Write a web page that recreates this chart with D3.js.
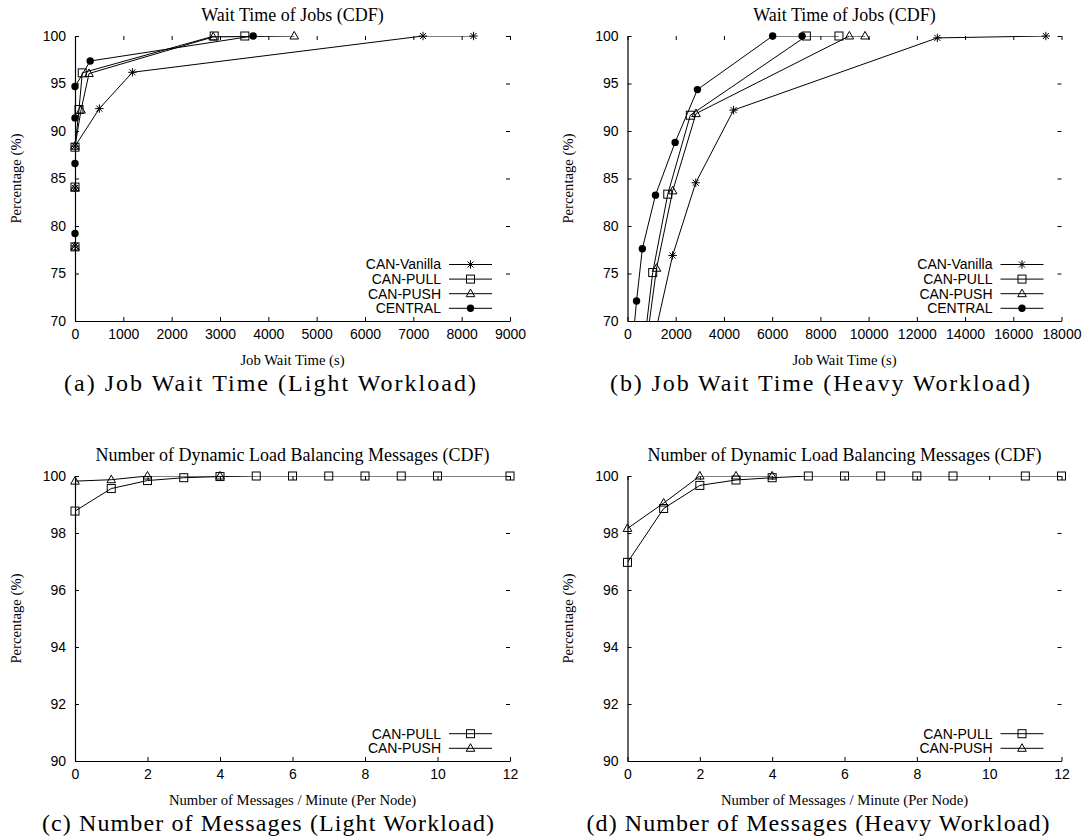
<!DOCTYPE html>
<html><head><meta charset="utf-8">
<script src="https://cdn.jsdelivr.net/npm/d3@7"></script>
<style>body{margin:0;background:#fff}svg{display:block}</style>
</head><body>
<svg id="c" width="1090" height="840"></svg>
<script>
// ---------- data ----------
// (a) Job wait time, light workload  [seconds, percentage]
const lightVanilla = [[0,60],[0,77.9],[0,84.0],[0,88.4],[504,92.36],[1188,96.18],[7200,100],[8244,100]];
const lightPull    = [[0,60],[0,77.8],[0,84.1],[0,88.3],[83,92.26],[150,96.12],[2880,100],[3514,100]];
const lightPush    = [[0,60],[0,77.8],[0,84.0],[0,88.4],[125,92.2],[290,96.05],[2860,99.9],[4536,100]];
const lightCentral = [[0,60],[0,79.22],[0,86.58],[0,91.38],[0,94.68],[315,97.37],[3686,100]];
// (b) Job wait time, heavy workload
const heavyVanilla = [[1000,67.0],[1870,76.9],[2830,84.55],[4400,92.2],[12851,99.8],[17351,100]];
const heavyPull    = [[700,67.7],[1045,75.1],[1670,83.35],[2605,91.66],[7420,100],[8770,100]];
const heavyPush    = [[800,67.9],[1205,75.55],[1875,83.7],[2840,91.83],[9202,100],[9851,100]];
const heavyCentral = [[225,68.0],[375,72.1],[615,77.6],[1160,83.25],[1975,88.8],[2900,94.36],[6020,100],[7240,100]];
// (c) Messages per minute per node, light workload
const msgLightPull = [[0,98.77],[1,99.56],[2,99.84],[3,99.94],[4,99.98],[5,100],[6,100],[7,100],[8,100],[9,100],[10,100],[12,100]];
const msgLightPush = [[0,99.82],[1,99.87],[2,100],[4,100]];
// (d) Messages per minute per node, heavy workload
const msgHeavyPull = [[0,96.97],[1,98.86],[2,99.67],[3,99.86],[4,99.94],[5,100],[6,100],[7,100],[8,100],[9,100],[11,100],[12,100]];
const msgHeavyPush = [[0,98.16],[1,99.05],[2,100],[3,100],[4,100]];

const waitTicksLight = [0,1000,2000,3000,4000,5000,6000,7000,8000,9000];
const waitTicksHeavy = [0,2000,4000,6000,8000,10000,12000,14000,16000,18000];
const pctTicksWait = [70,75,80,85,90,95,100];
const msgTicks = [0,2,4,6,8,10,12];
const pctTicksMsg = [90,92,94,96,98,100];

const names4 = ["CAN-Vanilla","CAN-PULL","CAN-PUSH","CENTRAL"];
const names2 = ["CAN-PULL","CAN-PUSH"];

// ---------- drawing ----------
const svg = d3.select("#c");
const SANS = "'Liberation Sans', Arial, sans-serif";
const SERIF = "'Liberation Serif', 'Times New Roman', serif";

const markers = {
  star: g => g.append("path").attr("d","M-4.2,0H4.2M0,-4.2V4.2M-3,-3L3,3M-3,3L3,-3").attr("stroke","#000").attr("stroke-width",1).attr("fill","none"),
  square: g => g.append("rect").attr("x",-4).attr("y",-4).attr("width",8).attr("height",8).attr("stroke","#000").attr("stroke-width",1).attr("fill","none"),
  tri: g => g.append("path").attr("d","M0,-4.6L4.3,3L-4.3,3Z").attr("stroke","#000").attr("stroke-width",1).attr("fill","none"),
  dot: g => g.append("circle").attr("r",3.7).attr("fill","#000")
};

const panels = [
  {key:"a", x0:75, x1:510, y0:36, y1:321, xd:[0,9000], yd:[70,100], xt:waitTicksLight, yt:pctTicksWait,
   title:"Wait Time of Jobs (CDF)", xlab:"Job Wait Time (s)",
   cap:"(a) Job Wait Time (Light Workload)", capX:270, capW:412,
   series:[lightVanilla,lightPull,lightPush,lightCentral], names:names4, mk:["star","square","tri","dot"]},
  {key:"b", x0:627.5, x1:1061.5, y0:36, y1:321, xd:[0,18000], yd:[70,100], xt:waitTicksHeavy, yt:pctTicksWait,
   title:"Wait Time of Jobs (CDF)", xlab:"Job Wait Time (s)",
   cap:"(b) Job Wait Time (Heavy Workload)", capX:820, capW:420,
   series:[heavyVanilla,heavyPull,heavyPush,heavyCentral], names:names4, mk:["star","square","tri","dot"]},
  {key:"c", x0:75, x1:510, y0:476, y1:761, xd:[0,12], yd:[90,100], xt:msgTicks, yt:pctTicksMsg,
   title:"Number of Dynamic Load Balancing Messages (CDF)", xlab:"Number of Messages / Minute (Per Node)",
   cap:"(c) Number of Messages (Light Workload)", capX:268, capW:452,
   series:[msgLightPull,msgLightPush], names:names2, mk:["square","tri"]},
  {key:"d", x0:627.5, x1:1061.5, y0:476, y1:761, xd:[0,12], yd:[90,100], xt:msgTicks, yt:pctTicksMsg,
   title:"Number of Dynamic Load Balancing Messages (CDF)", xlab:"Number of Messages / Minute (Per Node)",
   cap:"(d) Number of Messages (Heavy Workload)", capX:818, capW:463,
   series:[msgHeavyPull,msgHeavyPush], names:names2, mk:["square","tri"]}
];

const TL = 4; // tick length
panels.forEach(p => {
  const x = d3.scaleLinear().domain(p.xd).range([p.x0,p.x1]);
  const y = d3.scaleLinear().domain(p.yd).range([p.y1,p.y0]);
  const g = svg.append("g");
  const cx = (p.x0+p.x1)/2, cy = (p.y0+p.y1)/2;

  g.append("clipPath").attr("id","clip"+p.key).append("rect")
    .attr("x",p.x0).attr("y",p.y0).attr("width",p.x1-p.x0).attr("height",p.y1-p.y0);

  const xAx = g.append("g").attr("transform",`translate(0,${p.y1})`)
    .call(d3.axisBottom(x).tickValues(p.xt).tickSizeInner(-TL).tickSizeOuter(0).tickPadding(12).tickFormat(d3.format("d")));
  const yAx = g.append("g").attr("transform",`translate(${p.x0},0)`)
    .call(d3.axisLeft(y).tickValues(p.yt).tickSizeInner(-TL).tickSizeOuter(0).tickPadding(9).tickFormat(d3.format("d")));
  [xAx,yAx].forEach(a => {
    a.select(".domain").attr("stroke","#000").attr("stroke-width",1.2);
    a.selectAll(".tick line").attr("stroke","#000").attr("stroke-width",1);
    a.selectAll(".tick text").attr("font-family",SANS).attr("font-size",14).attr("fill","#000");
  });
  xAx.selectAll(".tick text").attr("dy","0.72em").attr("y",8);
  g.append("g").attr("transform",`translate(0,${p.y0})`)
    .call(d3.axisTop(x).tickValues(p.xt).tickSizeInner(-TL).tickSizeOuter(0).tickFormat(""))
    .call(a => { a.select(".domain").remove(); a.selectAll(".tick line").attr("stroke","#000"); });
  g.append("g").attr("transform",`translate(${p.x1},0)`)
    .call(d3.axisRight(y).tickValues(p.yt).tickSizeInner(-TL).tickSizeOuter(0).tickFormat(""))
    .call(a => { a.select(".domain").remove(); a.selectAll(".tick line").attr("stroke","#000"); });

  const line = d3.line().x(d=>x(d[0])).y(d=>y(d[1]));
  p.series.forEach((s,i) => {
    g.append("path").datum(s).attr("d",line).attr("clip-path",`url(#clip${p.key})`)
      .attr("fill","none").attr("stroke","#000").attr("stroke-width",1);
    s.filter(d => d[1] >= p.yd[0] && d[0] >= p.xd[0]).forEach(d => {
      const mg = g.append("g").attr("transform",`translate(${x(d[0])},${y(d[1])})`);
      markers[p.mk[i]](mg);
    });
  });

  const n = p.names.length;
  p.names.forEach((nm,i) => {
    const ly = p.y1 - 12.7 - (n-1-i)*14.6;
    g.append("text").attr("x",p.x1-69).attr("y",ly).attr("dy","0.35em").attr("text-anchor","end")
      .attr("font-family",SANS).attr("font-size",14).text(nm);
    g.append("line").attr("x1",p.x1-61).attr("x2",p.x1-18).attr("y1",ly).attr("y2",ly)
      .attr("stroke","#000").attr("stroke-width",1);
    const mg = g.append("g").attr("transform",`translate(${p.x1-39.5},${ly})`);
    markers[p.mk[i]](mg);
  });

  g.append("text").attr("x",cx).attr("y",p.y0-15).attr("text-anchor","middle")
    .attr("font-family",SERIF).attr("font-size",18).text(p.title);
  g.append("text").attr("x",cx).attr("y",p.y1+44).attr("text-anchor","middle")
    .attr("font-family",SERIF).attr("font-size",14.7).text(p.xlab);
  g.append("text").attr("transform",`translate(${p.x0-54.5},${cy}) rotate(-90)`).attr("text-anchor","middle")
    .attr("font-family",SERIF).attr("font-size",14.7).text("Percentage (%)");
  g.append("text").attr("x",p.capX - p.capW/2).attr("y",p.y1+70)
    .attr("textLength",p.capW).attr("lengthAdjust","spacing")
    .attr("font-family",SERIF).attr("font-size",24).text(p.cap);
});
</script>
</body></html>
